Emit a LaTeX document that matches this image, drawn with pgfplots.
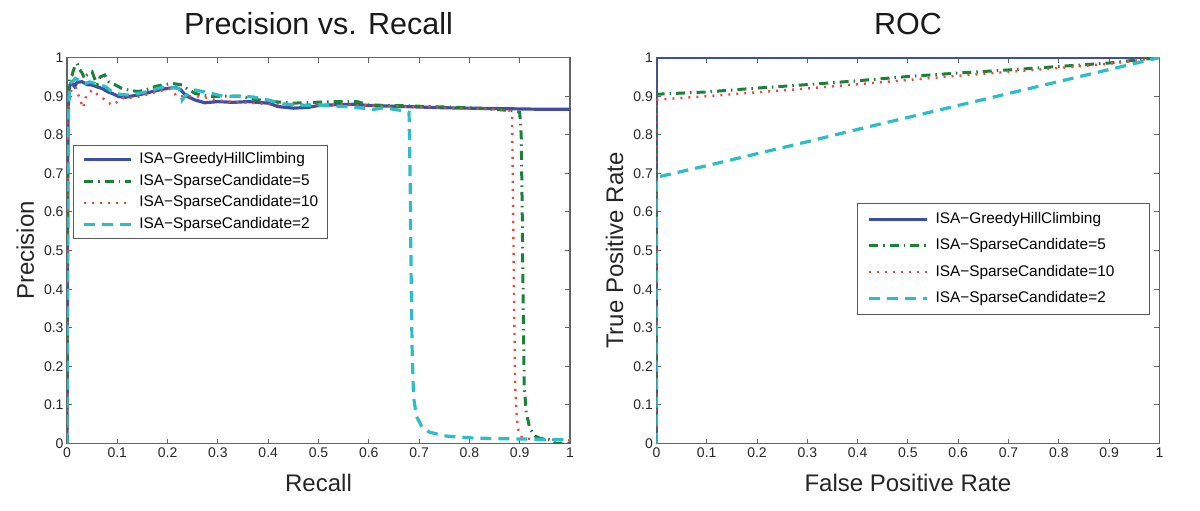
\documentclass[border=0pt]{standalone}
\usepackage{fontspec}
\setmainfont{Liberation Sans}
\usepackage{pgfplots}
\pgfplotsset{compat=1.18}
\definecolor{cblue}{RGB}{60,78,168}
\definecolor{cgreen}{RGB}{28,128,58}
\definecolor{cred}{RGB}{236,72,60}
\definecolor{ccyan}{RGB}{44,190,196}
\definecolor{framec}{RGB}{100,100,100}
\pgfplotsset{
  mybase/.style={
    scale only axis, width=503pt, height=386pt,
    xmin=0, xmax=1, ymin=0, ymax=1,
    xtick={0,0.1,0.2,0.3,0.4,0.5,0.6,0.7,0.8,0.9,1},
    ytick={0,0.1,0.2,0.3,0.4,0.5,0.6,0.7,0.8,0.9,1},
    xticklabels={0,0.1,0.2,0.3,0.4,0.5,0.6,0.7,0.8,0.9,1},
    yticklabels={0,0.1,0.2,0.3,0.4,0.5,0.6,0.7,0.8,0.9,1},
    tick align=inside, major tick length=5pt,
    every tick/.style={framec, line width=1pt},
    axis line style={framec, line width=1.3pt},
    tick label style={font=\fontsize{14}{16}\selectfont, text=black!85},
    xticklabel style={yshift=-1pt},
    label style={font=\fontsize{24}{28}\selectfont, text=black!85},
    title style={font=\fontsize{30.5}{34}\selectfont, text=black!90, at={(axis description cs:0.5,1.043)}, anchor=base},
    xlabel style={at={(axis description cs:0.5,-0.125)}, anchor=base},
    ylabel style={at={(axis description cs:-0.066,0.5)}, anchor=base},
    legend cell align=left,
  },
  sblue/.style={cblue, line width=3.2pt, solid},
  sgreen/.style={cgreen, line width=3pt, dash pattern=on 9pt off 5pt on 1.5pt off 5pt},
  sred/.style={cred, line width=2.4pt, dash pattern=on 2pt off 6pt},
  scyan/.style={ccyan, line width=3.2pt, dash pattern=on 11pt off 7pt},
}
\begin{document}
\begin{tikzpicture}
\path[use as bounding box] (0,0) rectangle (1200pt,511pt);
% ---------------- Precision vs Recall ----------------
\begin{axis}[mybase, at={(67pt,67.4pt)}, anchor=south west,
  title={Precision vs. Recall}, xlabel={Recall}, ylabel={Precision},
  legend image code/.code={\draw[#1] (0pt,0pt) -- (47pt,0pt);},
  legend style={at={(axis description cs:0.0119,0.7736)}, anchor=north west,
    draw=black!65, line width=1.2pt, fill=white, inner xsep=9pt, inner ysep=6.5pt,
    row sep=6.9pt, column sep=6.5pt, font=\fontsize{15.4}{17}\selectfont,
    nodes={inner sep=0pt, text height=11.5pt, text depth=3.3pt}},
]
\addplot[sblue] coordinates {(0,0) (0.002,0.86) (0.004,0.91) (0.006,0.93) (0.01,0.934) (0.015,0.925) (0.02,0.936) (0.03,0.9375) (0.04,0.93) (0.05,0.929) (0.06,0.924) (0.07,0.92) (0.08,0.912) (0.09,0.907) (0.103,0.899) (0.115,0.897) (0.123,0.899) (0.14,0.903) (0.155,0.907) (0.17,0.912) (0.189,0.918) (0.205,0.921) (0.215,0.923) (0.225,0.918) (0.232,0.908) (0.24,0.899) (0.255,0.89) (0.274,0.883) (0.3,0.886) (0.33,0.884) (0.36,0.886) (0.4,0.882) (0.42,0.873) (0.45,0.869) (0.48,0.871) (0.5,0.876) (0.54,0.878) (0.57,0.879) (0.6,0.876) (0.65,0.874) (0.7,0.872) (0.75,0.87) (0.8,0.869) (0.85,0.868) (0.9,0.867) (0.95,0.866) (1.0,0.866)};
\addlegendentry{ISA−GreedyHillClimbing}
\addplot[sgreen] coordinates {(0,0) (0.002,0.9) (0.005,0.95) (0.01,0.955) (0.015,0.975) (0.02,0.985) (0.025,0.97) (0.03,0.96) (0.035,0.945) (0.04,0.955) (0.05,0.963) (0.055,0.945) (0.06,0.93) (0.066,0.95) (0.075,0.955) (0.083,0.9375) (0.095,0.93) (0.109,0.92) (0.125,0.915) (0.142,0.912) (0.16,0.918) (0.175,0.925) (0.189,0.929) (0.209,0.933) (0.22,0.931) (0.229,0.929) (0.24,0.918) (0.255,0.907) (0.27,0.903) (0.288,0.899) (0.31,0.9) (0.344,0.9) (0.36,0.895) (0.384,0.89) (0.42,0.885) (0.45,0.882) (0.49,0.884) (0.529,0.886) (0.577,0.886) (0.6,0.877) (0.65,0.876) (0.7,0.874) (0.75,0.872) (0.8,0.87) (0.85,0.866) (0.89,0.862) (0.9,0.858) (0.903,0.8) (0.905,0.6) (0.907,0.35) (0.909,0.15) (0.913,0.08) (0.92,0.04) (0.93,0.02) (0.94,0.014) (0.955,0.012) (0.965,0.008) (0.97,0.001) (1.0,0)};
\addlegendentry{ISA−SparseCandidate=5}
\addplot[sred] coordinates {(0,0) (0.002,0.85) (0.005,0.9) (0.01,0.92) (0.017,0.925) (0.022,0.905) (0.026,0.89) (0.032,0.87) (0.038,0.9) (0.05,0.916) (0.06,0.905) (0.076,0.89) (0.089,0.877) (0.1,0.885) (0.116,0.899) (0.13,0.895) (0.155,0.903) (0.18,0.912) (0.202,0.92) (0.212,0.91) (0.219,0.899) (0.24,0.9) (0.268,0.899) (0.295,0.89) (0.33,0.885) (0.37,0.882) (0.4,0.88) (0.45,0.879) (0.5,0.878) (0.55,0.878) (0.6,0.876) (0.65,0.874) (0.7,0.872) (0.75,0.87) (0.8,0.868) (0.85,0.866) (0.88,0.862) (0.885,0.85) (0.887,0.6) (0.889,0.35) (0.891,0.15) (0.894,0.07) (0.898,0.03) (0.905,0.015) (0.93,0.01) (0.96,0.01) (1.0,0.008)};
\addlegendentry{ISA−SparseCandidate=10}
\addplot[scyan] coordinates {(0,0) (0.002,0.8) (0.004,0.9) (0.007,0.933) (0.012,0.94) (0.017,0.946) (0.025,0.94) (0.036,0.933) (0.045,0.937) (0.056,0.933) (0.066,0.929) (0.076,0.925) (0.086,0.915) (0.096,0.907) (0.11,0.904) (0.123,0.903) (0.14,0.907) (0.162,0.912) (0.18,0.92) (0.195,0.925) (0.21,0.922) (0.222,0.92) (0.227,0.905) (0.229,0.89) (0.235,0.9) (0.245,0.912) (0.255,0.916) (0.27,0.912) (0.288,0.907) (0.31,0.9) (0.34,0.9) (0.37,0.898) (0.4,0.89) (0.43,0.88) (0.46,0.877) (0.5,0.876) (0.54,0.874) (0.58,0.87) (0.61,0.866) (0.63,0.87) (0.65,0.866) (0.67,0.862) (0.68,0.858) (0.682,0.7) (0.684,0.45) (0.686,0.25) (0.689,0.12) (0.695,0.07) (0.705,0.045) (0.72,0.03) (0.75,0.02) (0.8,0.015) (0.85,0.013) (0.9,0.012) (0.95,0.011) (1.0,0.01)};
\addlegendentry{ISA−SparseCandidate=2}
\end{axis}
% ---------------- ROC ----------------
\begin{axis}[mybase, at={(656.4pt,67.4pt)}, anchor=south west,
  title={ROC}, xlabel={False Positive Rate}, ylabel={True Positive Rate},
  legend image code/.code={\draw[#1] (0pt,0pt) -- (58pt,0pt);},
  legend style={at={(axis description cs:0.3988,0.624)}, anchor=north west,
    draw=black!65, line width=1.2pt, fill=white, inner xsep=10pt, inner ysep=8.5pt,
    row sep=11.6pt, column sep=6.7pt, font=\fontsize{15.4}{17}\selectfont,
    nodes={inner sep=0pt, text height=11.5pt, text depth=3.3pt, text width=204pt}},
]
\addplot[sblue] coordinates {(0,0) (0,1) (1,1)};
\addlegendentry{ISA−GreedyHillClimbing}
\addplot[sgreen] coordinates {(0,0) (0,0.905) (0.1,0.911) (0.2,0.921) (0.3,0.93) (0.4,0.94) (0.5,0.951) (0.6,0.96) (0.7,0.968) (0.8,0.977) (0.9,0.986) (1,1)};
\addlegendentry{ISA−SparseCandidate=5}
\addplot[sred] coordinates {(0,0) (0,0.891) (0.1,0.9) (0.2,0.91) (0.3,0.92) (0.4,0.931) (0.5,0.942) (0.6,0.953) (0.7,0.963) (0.8,0.973) (0.9,0.984) (1,1)};
\addlegendentry{ISA−SparseCandidate=10}
\addplot[scyan] coordinates {(0,0) (0,0.69) (0.1,0.72) (0.2,0.751) (0.3,0.782) (0.4,0.814) (0.5,0.845) (0.6,0.876) (0.7,0.907) (0.8,0.938) (0.9,0.969) (1,1)};
\addlegendentry{ISA−SparseCandidate=2}
\end{axis}
\end{tikzpicture}
\end{document}
